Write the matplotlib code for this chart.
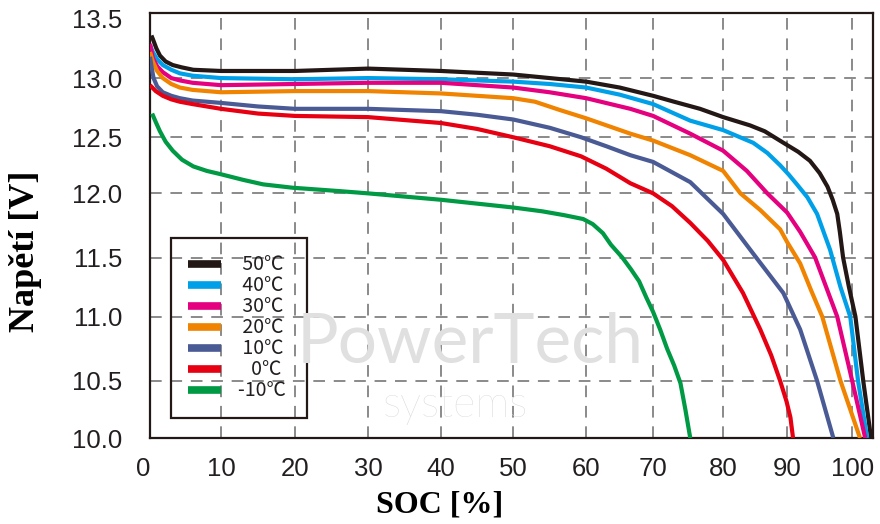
import numpy as np
import matplotlib.pyplot as plt
from matplotlib.lines import Line2D

# data: SOC [%] -> voltage [V]
soc_50 = [0.2, 0.4, 0.9, 1.4, 2.2, 3.2, 4.5, 6.1, 10, 20, 30, 40, 50, 55, 60, 65, 70, 73, 76.7, 80,
          84.2, 86.5, 88, 90, 91.7, 93.5, 95, 96.2, 97, 97.7, 98.1, 98.6, 99.5, 100.5, 101.7, 102.9]
v_50 = [13.36, 13.33, 13.25, 13.19, 13.14, 13.11, 13.09, 13.07, 13.06, 13.06, 13.08, 13.06, 13.03, 13.0, 12.97, 12.92, 12.85, 12.8, 12.74, 12.67,
        12.6, 12.55, 12.5, 12.43, 12.37, 12.29, 12.18, 12.06, 11.95, 11.84, 11.7, 11.5, 11.25, 11.0, 10.5, 10.0]

soc_40 = [0, 0.4, 1, 1.8, 3, 4.2, 6, 10, 20, 30, 40, 50, 55, 60, 65, 70, 75.3, 80, 84.7, 86.9,
          88.9, 90.2, 91.5, 93.1, 94.6, 96.6, 98.2, 99.7, 100.9, 102.3]
v_40 = [13.28, 13.22, 13.16, 13.11, 13.07, 13.04, 13.02, 13.0, 12.99, 13.0, 12.99, 12.97, 12.95, 12.92, 12.86, 12.78, 12.64, 12.56, 12.45, 12.36,
        12.25, 12.17, 12.08, 11.97, 11.84, 11.56, 11.25, 11.0, 10.5, 10.0]

soc_30 = [0, 0.4, 1, 1.8, 3, 4.2, 6, 10, 20, 30, 40, 50, 55, 60, 66.6, 70, 75.3, 80, 83.7, 86.9,
          90, 92, 94.3, 96, 97.7, 100, 102]
v_30 = [13.29, 13.17, 13.1, 13.05, 13.0, 12.98, 12.96, 12.94, 12.95, 12.96, 12.96, 12.92, 12.88, 12.83, 12.74, 12.68, 12.53, 12.38, 12.2, 12.0,
        11.85, 11.7, 11.5, 11.25, 11.0, 10.5, 10.0]

soc_20 = [0, 0.4, 1, 1.8, 3, 4.2, 6, 10, 20, 30, 40, 50, 53, 56.4, 60, 66.6, 70, 75.3, 80, 82.7,
          85.8, 88.9, 90, 92, 93.7, 95.4, 98.2, 101.2]
v_20 = [13.22, 13.14, 13.06, 13.0, 12.95, 12.92, 12.9, 12.88, 12.89, 12.89, 12.87, 12.83, 12.8, 12.73, 12.66, 12.53, 12.47, 12.34, 12.2, 12.0,
        11.87, 11.72, 11.62, 11.45, 11.22, 11.0, 10.5, 10.0]

soc_10 = [0, 0.2, 0.5, 1, 1.8, 3, 4.2, 6, 10, 15, 20, 30, 40, 45, 50, 55, 59.3, 63, 66.6, 70,
          75.3, 80, 84.7, 87, 89.4, 92, 94.6, 97.1]
v_10 = [13.18, 13.1, 13.0, 12.93, 12.88, 12.85, 12.83, 12.81, 12.79, 12.76, 12.74, 12.74, 12.72, 12.69, 12.65, 12.58, 12.5, 12.42, 12.34, 12.28,
        12.1, 11.84, 11.53, 11.37, 11.2, 10.9, 10.5, 10.0]

soc_0 = [0, 0.8, 1.8, 3, 4.2, 6, 10, 15, 20, 30, 40, 45, 50, 55, 59.3, 63, 66.6, 70, 72.7, 75.3,
         77.8, 80, 83.1, 85.8, 87.5, 88.9, 89.9, 90.5, 90.9]
v_0 = [12.94, 12.89, 12.85, 12.82, 12.8, 12.78, 12.74, 12.7, 12.68, 12.67, 12.62, 12.57, 12.5, 12.42, 12.33, 12.22, 12.09, 12.0, 11.9, 11.77,
       11.63, 11.48, 11.2, 10.9, 10.7, 10.5, 10.32, 10.18, 10.0]

soc_m10 = [0.3, 0.8, 1.4, 2.2, 3.2, 4.5, 6.1, 8, 10, 13, 15.7, 19.7, 26.1, 30, 40, 50, 54, 57, 59.6, 61,
           62.5, 63.7, 65.4, 66.7, 67.9, 69, 70, 71, 72, 73, 73.9, 74.6, 75.3]
v_m10 = [12.7, 12.63, 12.55, 12.46, 12.38, 12.3, 12.24, 12.2, 12.17, 12.12, 12.08, 12.05, 12.02, 12.0, 11.95, 11.89, 11.86, 11.83, 11.8, 11.76,
         11.69, 11.6, 11.5, 11.4, 11.3, 11.16, 11.04, 10.9, 10.75, 10.62, 10.48, 10.25, 10.0]

labels = [' 50℃ ', ' 40℃ ', ' 30℃ ', ' 20℃ ', ' 10℃ ', '   0℃ ', '-10℃ ']
colors = ['#231815', '#00a0e9', '#e4007f', '#f08300', '#4a5a94', '#e60012', '#009944']
series = [(soc_50, v_50), (soc_40, v_40), (soc_30, v_30), (soc_20, v_20),
          (soc_10, v_10), (soc_0, v_0), (soc_m10, v_m10)]

x_ticks = [0, 10, 20, 30, 40, 50, 60, 70, 80, 90, 100]
y_ticks = [10.0, 10.5, 11.0, 11.5, 12.0, 12.5, 13.0, 13.5]

# the scanned original has slightly uneven grid spacing; follow it with a warped scale
x_warp_val = [-50, 0, 10, 20, 30, 40, 50, 60, 70, 80, 90, 100, 150]
x_warp_pos = [-205, 150, 221, 295, 368, 441, 513, 586, 653, 723, 787, 852, 1177]
y_warp_val = [5, 10.0, 10.5, 11.0, 11.5, 12.0, 12.5, 13.0, 13.5, 20]
y_warp_pos = [-1027, -437, -380, -316, -257, -193, -137, -78, -19, 748]


def xf(v):
    return np.interp(v, x_warp_val, x_warp_pos)


def xi(p):
    return np.interp(p, x_warp_pos, x_warp_val)


def yf(v):
    return np.interp(v, y_warp_val, y_warp_pos)


def yi(p):
    return np.interp(p, y_warp_pos, y_warp_val)


fig = plt.figure(figsize=(8.8, 5.24), dpi=100)
ax = fig.add_axes([150 / 880, 1 - 438 / 524, 723 / 880, 425 / 524])
ax.set_xscale('function', functions=(xf, xi))
ax.set_yscale('function', functions=(yf, yi))

# faint watermark
fig.text(0.534, 0.345, 'PowerTech', fontsize=50, family='Lato',
         color='#e0e0e0', ha='center', va='center', zorder=0)
fig.text(0.517, 0.226, 'systems', fontsize=31, family='Lato', fontweight='light',
         color='#d6d6d6', ha='center', va='center', zorder=0)
ax.set_facecolor('none')

for (s, v), c in zip(series, colors):
    ax.plot(s, v, color=c, lw=3, solid_capstyle='butt', solid_joinstyle='round', zorder=3)

ax.set_xlim(0, 103.2)
ax.set_ylim(10.0, 13.55)
ax.set_xticks(x_ticks)
ax.set_xticklabels([str(t) for t in x_ticks])
ax.set_yticks(y_ticks)
ax.set_yticklabels([f'{t:.1f}' for t in y_ticks])

ax.grid(True, color='#8a8a8a', lw=1.4, linestyle=(0, (6, 4.5)))
ax.yaxis.get_major_ticks()[-1].gridline.set_visible(False)

for sp in ax.spines.values():
    sp.set_color('#231815')
    sp.set_linewidth(1.6)

ax.tick_params(axis='both', length=0, labelsize=18.5, labelcolor='#231f20')
ax.tick_params(axis='x', pad=14)
ax.tick_params(axis='y', pad=20)
for t in ax.get_xticklabels() + ax.get_yticklabels():
    t.set_family('Liberation Sans')
ax.get_xticklabels()[0].set_ha('right')

ax.set_xlabel('SOC [%]', family='Liberation Serif', fontweight='bold', fontsize=23, va='center')
ax.set_ylabel('Napětí [V]', family='Liberation Serif', fontweight='bold', fontsize=26, va='center')
ax.xaxis.set_label_coords(0.40, -0.158)
ax.yaxis.set_label_coords(-0.172, 0.44)

handles = [Line2D([], [], color=c, lw=5.5, solid_capstyle='butt') for c in colors]
leg = ax.legend(handles, labels, loc='lower left',
                bbox_to_anchor=(171 / 880, 1 - 418 / 524), bbox_transform=fig.transFigure,
                borderaxespad=0, fancybox=False, framealpha=1, facecolor='none',
                edgecolor='#231815', labelspacing=0.0, handlelength=1.7,
                handletextpad=0.9, borderpad=0.85,
                prop={'family': ['Noto Sans CJK JP', 'DejaVu Sans'], 'size': 14})
leg.get_frame().set_linewidth(1.6)
for t in leg.get_texts():
    t.set_color('#231f20')

fig.savefig('out.png', dpi=100)
